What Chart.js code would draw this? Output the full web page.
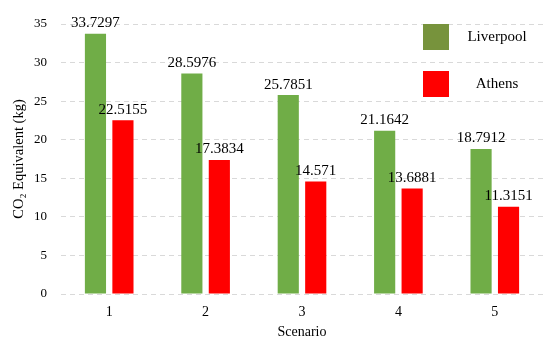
<!DOCTYPE html>
<html>
<head>
<meta charset="utf-8">
<script src="https://cdn.jsdelivr.net/npm/chart.js@4/dist/chart.umd.min.js"></script>
<style>
html,body{margin:0;padding:0;background:#fff;}
#wrap{width:550px;height:343px;}
</style>
</head>
<body>
<div id="wrap"><canvas id="c" width="550" height="343"></canvas></div>
<script>
const categories = ["1", "2", "3", "4", "5"];
const liverpool = [33.7297, 28.5976, 25.7851, 21.1642, 18.7912];
const athens = [22.5155, 17.3834, 14.571, 13.6881, 11.3151];
const seriesNames = ["Liverpool", "Athens"];
const barColors = ["#70AD47", "#FF0000"];
const legendColors = ["#77933C", "#FF0000"];
const yTitle = "CO\u2082 Equivalent (kg)";
const xTitle = "Scenario";
const FONT = "'Liberation Serif', 'Times New Roman', serif";

const dataLabels = {
  id: 'dataLabels',
  afterDatasetsDraw(chart) {
    const ctx = chart.ctx;
    ctx.save();
    ctx.font = "15px " + FONT;
    ctx.fillStyle = "#000";
    ctx.textAlign = "center";
    ctx.textBaseline = "bottom";
    chart.data.datasets.forEach((ds, i) => {
      const meta = chart.getDatasetMeta(i);
      meta.data.forEach((el, j) => {
        ctx.fillText(String(ds.data[j]), el.x, el.y - 3);
      });
    });
    ctx.restore();
  }
};

const customLegend = {
  id: 'customLegend',
  afterDraw(chart) {
    const ctx = chart.ctx;
    ctx.save();
    ctx.font = "15px " + FONT;
    ctx.textBaseline = "middle";
    ctx.textAlign = "center";
    const boxX = 423, size = 26;
    const rows = [24, 71];
    seriesNames.forEach((name, i) => {
      ctx.fillStyle = legendColors[i];
      ctx.fillRect(boxX, rows[i], size, size);
      ctx.fillStyle = "#000";
      ctx.fillText(name, 497, rows[i] + size / 2);
    });
    ctx.restore();
  }
};

new Chart(document.getElementById('c'), {
  type: 'bar',
  data: {
    labels: categories,
    datasets: [
      { label: seriesNames[0], data: liverpool, backgroundColor: barColors[0] },
      { label: seriesNames[1], data: athens, backgroundColor: barColors[1] }
    ]
  },
  options: {
    responsive: false,
    animation: false,
    devicePixelRatio: 1,
    layout: { padding: { top: 24, right: 7, left: 0, bottom: 0 } },
    datasets: { bar: { categoryPercentage: 0.57, barPercentage: 0.77 } },
    plugins: { legend: { display: false }, tooltip: { enabled: false } },
    scales: {
      x: {
        grid: { display: false, drawTicks: false },
        border: { display: false },
        ticks: { color: "#000", font: { family: FONT, size: 14 }, padding: 10 },
        title: { display: true, text: xTitle, color: "#000", font: { family: FONT, size: 14 }, padding: { top: 2, bottom: 2 } },
        afterFit(s) { s.height = 49; }
      },
      y: {
        min: 0, max: 35,
        ticks: { stepSize: 5, color: "#000", font: { family: FONT, size: 13 }, padding: 14 },
        grid: { color: "#D9D9D9", lineWidth: 1, drawTicks: false },
        border: { display: false, dash: [5, 4] },
        title: { display: true, text: yTitle, color: "#000", font: { family: FONT, size: 14.5 }, padding: { top: 10, bottom: 0 } },
        afterFit(s) { s.width = 61; }
      }
    }
  },
  plugins: [dataLabels, customLegend]
});
</script>
</body>
</html>
